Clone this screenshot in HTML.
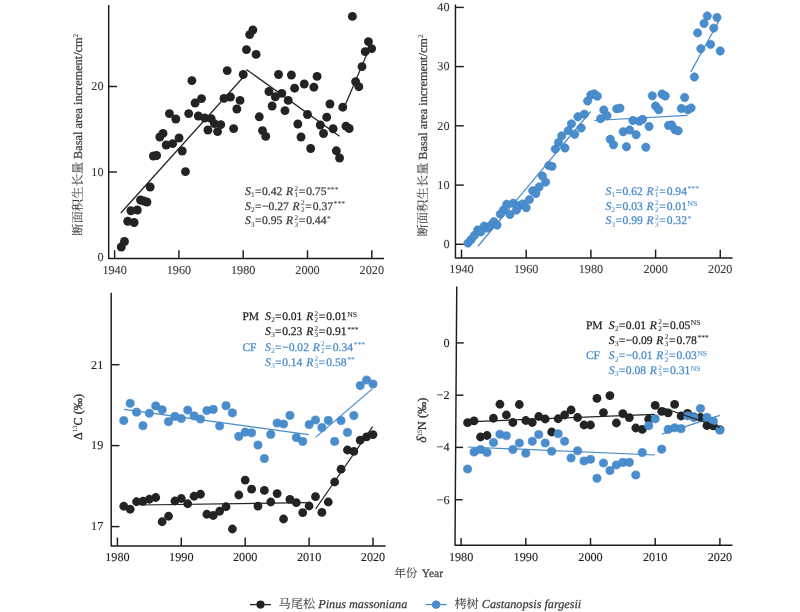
<!DOCTYPE html>
<html lang="zh"><head><meta charset="utf-8"><title>Figure</title>
<style>html,body{margin:0;padding:0;background:#fff}svg{display:block}</style></head>
<body>
<svg width="800" height="612" viewBox="0 0 800 612" font-family="'Liberation Serif', 'Noto Serif CJK SC', serif">
<rect width="800" height="612" fill="#fff"/>
<style>text{stroke-width:0.25px;stroke-linejoin:round;text-rendering:geometricPrecision}.cjk{stroke-width:0.08px;fill:#3c3c3c}.tk text{stroke-width:0.12px}</style>
<g stroke="#1c1c1c" stroke-width="1.45" fill="none" stroke-linejoin="round"><path d="M108.7 5L108.7 258.5H384"/><path d="M114.6 258.5v-8.3"/><path d="M178.9 258.5v-8.3"/><path d="M243.2 258.5v-8.3"/><path d="M307.5 258.5v-8.3"/><path d="M371.8 258.5v-8.3"/><path d="M108.70 172h8.3"/><path d="M108.70 86.5h8.3"/></g><g fill="#3a3a3a" stroke="#3a3a3a" font-size="12.2" class="tk"><text x="114.6" y="273.80" text-anchor="middle">1940</text><text x="178.9" y="273.80" text-anchor="middle">1960</text><text x="243.2" y="273.80" text-anchor="middle">1980</text><text x="307.5" y="273.80" text-anchor="middle">2000</text><text x="371.8" y="273.80" text-anchor="middle">2020</text><text x="103.5" y="261.45" text-anchor="end">0</text><text x="103.5" y="175.85" text-anchor="end">10</text><text x="103.5" y="90.35" text-anchor="end">20</text></g>
<g fill="#222324"><circle cx="121.27" cy="247.00" r="4.45"/><circle cx="124.48" cy="241.50" r="4.45"/><circle cx="127.69" cy="221.25" r="4.45"/><circle cx="130.90" cy="210.75" r="4.45"/><circle cx="134.11" cy="222.50" r="4.45"/><circle cx="137.32" cy="210.00" r="4.45"/><circle cx="140.53" cy="200.00" r="4.45"/><circle cx="143.74" cy="201.00" r="4.45"/><circle cx="146.95" cy="202.00" r="4.45"/><circle cx="150.16" cy="187.00" r="4.45"/><circle cx="153.37" cy="156.00" r="4.45"/><circle cx="156.58" cy="155.50" r="4.45"/><circle cx="159.79" cy="137.00" r="4.45"/><circle cx="163.00" cy="133.40" r="4.45"/><circle cx="166.21" cy="145.00" r="4.45"/><circle cx="169.42" cy="113.60" r="4.45"/><circle cx="172.63" cy="143.60" r="4.45"/><circle cx="175.84" cy="119.00" r="4.45"/><circle cx="179.05" cy="138.00" r="4.45"/><circle cx="182.26" cy="151.00" r="4.45"/><circle cx="185.47" cy="171.60" r="4.45"/><circle cx="188.68" cy="113.60" r="4.45"/><circle cx="191.89" cy="80.60" r="4.45"/><circle cx="195.10" cy="103.00" r="4.45"/><circle cx="198.31" cy="116.00" r="4.45"/><circle cx="201.52" cy="98.60" r="4.45"/><circle cx="204.73" cy="118.00" r="4.45"/><circle cx="207.94" cy="130.00" r="4.45"/><circle cx="211.15" cy="118.60" r="4.45"/><circle cx="214.36" cy="123.60" r="4.45"/><circle cx="217.57" cy="131.60" r="4.45"/><circle cx="220.78" cy="124.60" r="4.45"/><circle cx="223.99" cy="98.40" r="4.45"/><circle cx="227.20" cy="70.60" r="4.45"/><circle cx="230.41" cy="97.00" r="4.45"/><circle cx="233.62" cy="128.60" r="4.45"/><circle cx="236.83" cy="109.00" r="4.45"/><circle cx="240.04" cy="100.40" r="4.45"/><circle cx="243.25" cy="74.50" r="4.45"/><circle cx="246.46" cy="49.60" r="4.45"/><circle cx="249.67" cy="34.60" r="4.45"/><circle cx="252.88" cy="30.00" r="4.45"/><circle cx="256.09" cy="54.40" r="4.45"/><circle cx="259.30" cy="116.80" r="4.45"/><circle cx="262.51" cy="130.60" r="4.45"/><circle cx="265.72" cy="136.40" r="4.45"/><circle cx="268.93" cy="91.50" r="4.45"/><circle cx="272.14" cy="106.00" r="4.45"/><circle cx="275.35" cy="96.80" r="4.45"/><circle cx="278.56" cy="74.50" r="4.45"/><circle cx="281.77" cy="93.40" r="4.45"/><circle cx="284.98" cy="110.60" r="4.45"/><circle cx="288.19" cy="100.40" r="4.45"/><circle cx="291.40" cy="75.00" r="4.45"/><circle cx="294.61" cy="88.20" r="4.45"/><circle cx="297.82" cy="124.00" r="4.45"/><circle cx="301.03" cy="137.00" r="4.45"/><circle cx="304.24" cy="84.00" r="4.45"/><circle cx="307.45" cy="114.50" r="4.45"/><circle cx="310.66" cy="148.50" r="4.45"/><circle cx="313.87" cy="87.20" r="4.45"/><circle cx="317.08" cy="76.40" r="4.45"/><circle cx="320.29" cy="125.00" r="4.45"/><circle cx="323.50" cy="133.50" r="4.45"/><circle cx="326.71" cy="117.20" r="4.45"/><circle cx="329.92" cy="104.00" r="4.45"/><circle cx="333.13" cy="128.75" r="4.45"/><circle cx="336.34" cy="150.80" r="4.45"/><circle cx="339.55" cy="158.00" r="4.45"/><circle cx="342.76" cy="107.20" r="4.45"/><circle cx="345.97" cy="126.20" r="4.45"/><circle cx="349.18" cy="128.50" r="4.45"/><circle cx="352.39" cy="16.40" r="4.45"/><circle cx="355.60" cy="81.60" r="4.45"/><circle cx="358.81" cy="86.70" r="4.45"/><circle cx="362.02" cy="66.60" r="4.45"/><circle cx="365.23" cy="51.60" r="4.45"/><circle cx="368.44" cy="41.60" r="4.45"/><circle cx="371.65" cy="48.60" r="4.45"/></g>
<line x1="120.8" y1="213" x2="242.5" y2="78" stroke="#222324" stroke-width="1.25"/>
<line x1="246.4" y1="69.4" x2="339.5" y2="136.3" stroke="#222324" stroke-width="1.25"/>
<line x1="342.7" y1="111" x2="368.2" y2="51" stroke="#222324" stroke-width="1.25"/>
<text transform="translate(82.3 134.8) rotate(-90)" text-anchor="middle" font-size="12.3" fill="#3a3a3a" stroke="#3a3a3a"><tspan class="cjk">断面积生长量</tspan> Basal area increment/cm<tspan font-size="7.2" stroke-width="0.1" dy="-4.5">2</tspan></text>
<text x="245" y="195" fill="#3a3a3a" stroke="#3a3a3a" font-size="11.6"><tspan font-style="italic">S</tspan><tspan font-size="7.2" stroke-width="0.05" dy="2.3" dx="0.3">1</tspan><tspan dy="-2.3" dx="0.3">=</tspan><tspan dx="0.5">0.42</tspan><tspan font-style="italic" dx="3.7">R</tspan><tspan font-size="7.2" stroke-width="0.05" dy="-4.3" dx="1.3">2</tspan><tspan font-size="7.2" stroke-width="0.05" dy="6.6" dx="-3.6">1</tspan><tspan dy="-2.3" dx="0.7">=</tspan><tspan dx="0.9">0.75</tspan><tspan font-size="7.6" stroke-width="0.1" dy="-3.5" dx="0.6">***</tspan></text>
<text x="245" y="209.6" fill="#3a3a3a" stroke="#3a3a3a" font-size="11.6"><tspan font-style="italic">S</tspan><tspan font-size="7.2" stroke-width="0.05" dy="2.3" dx="0.3">2</tspan><tspan dy="-2.3" dx="0.3">=</tspan><tspan dx="0.5">−0.27</tspan><tspan font-style="italic" dx="3.7">R</tspan><tspan font-size="7.2" stroke-width="0.05" dy="-4.3" dx="1.3">2</tspan><tspan font-size="7.2" stroke-width="0.05" dy="6.6" dx="-3.6">2</tspan><tspan dy="-2.3" dx="0.7">=</tspan><tspan dx="0.9">0.37</tspan><tspan font-size="7.6" stroke-width="0.1" dy="-3.5" dx="0.6">***</tspan></text>
<text x="245" y="224.4" fill="#3a3a3a" stroke="#3a3a3a" font-size="11.6"><tspan font-style="italic">S</tspan><tspan font-size="7.2" stroke-width="0.05" dy="2.3" dx="0.3">3</tspan><tspan dy="-2.3" dx="0.3">=</tspan><tspan dx="0.5">0.95</tspan><tspan font-style="italic" dx="3.7">R</tspan><tspan font-size="7.2" stroke-width="0.05" dy="-4.3" dx="1.3">2</tspan><tspan font-size="7.2" stroke-width="0.05" dy="6.6" dx="-3.6">3</tspan><tspan dy="-2.3" dx="0.7">=</tspan><tspan dx="0.9">0.44</tspan><tspan font-size="7.6" stroke-width="0.1" dy="-3.5" dx="0.6">*</tspan></text>
<g stroke="#1c1c1c" stroke-width="1.45" fill="none" stroke-linejoin="round"><path d="M455.45 4.5L455.45 258H732.6"/><path d="M461.5 258v-8.3"/><path d="M526.2 258v-8.3"/><path d="M590.9 258v-8.3"/><path d="M655.6 258v-8.3"/><path d="M720.25 258v-8.3"/><path d="M455.45 244.3h8.3"/><path d="M455.45 185.1h8.3"/><path d="M455.45 125.8h8.3"/><path d="M455.45 66.6h8.3"/><path d="M455.45 7.4h8.3"/></g><g fill="#3a3a3a" stroke="#3a3a3a" font-size="12.2" class="tk"><text x="461.5" y="273.30" text-anchor="middle">1940</text><text x="526.2" y="273.30" text-anchor="middle">1960</text><text x="590.9" y="273.30" text-anchor="middle">1980</text><text x="655.6" y="273.30" text-anchor="middle">2000</text><text x="720.25" y="273.30" text-anchor="middle">2020</text><text x="449.5" y="248.15" text-anchor="end">0</text><text x="449.5" y="188.95" text-anchor="end">10</text><text x="449.5" y="129.65" text-anchor="end">20</text><text x="449.5" y="70.45" text-anchor="end">30</text><text x="449.5" y="11.25" text-anchor="end">40</text></g>
<line x1="478" y1="246.25" x2="590.65" y2="111.5" stroke="#478ac9" stroke-width="1.25"/>
<line x1="594.25" y1="120.5" x2="687.7" y2="115.3" stroke="#478ac9" stroke-width="1.25"/>
<line x1="690.8" y1="72" x2="718.7" y2="21.3" stroke="#478ac9" stroke-width="1.25"/>
<g fill="#4a8dcd" stroke="#3f82c4" stroke-width="0.6"><circle cx="467.97" cy="243.10" r="4.15"/><circle cx="471.20" cy="239.50" r="4.15"/><circle cx="474.44" cy="235.40" r="4.15"/><circle cx="477.67" cy="230.00" r="4.15"/><circle cx="480.90" cy="231.90" r="4.15"/><circle cx="484.14" cy="226.10" r="4.15"/><circle cx="487.37" cy="228.10" r="4.15"/><circle cx="490.61" cy="225.50" r="4.15"/><circle cx="493.84" cy="221.60" r="4.15"/><circle cx="497.07" cy="225.10" r="4.15"/><circle cx="500.31" cy="214.10" r="4.15"/><circle cx="503.54" cy="209.80" r="4.15"/><circle cx="506.78" cy="204.20" r="4.15"/><circle cx="510.01" cy="214.50" r="4.15"/><circle cx="513.24" cy="203.20" r="4.15"/><circle cx="516.48" cy="210.10" r="4.15"/><circle cx="519.71" cy="205.20" r="4.15"/><circle cx="522.95" cy="204.00" r="4.15"/><circle cx="526.18" cy="207.70" r="4.15"/><circle cx="529.41" cy="199.60" r="4.15"/><circle cx="532.65" cy="190.75" r="4.15"/><circle cx="535.88" cy="193.50" r="4.15"/><circle cx="539.12" cy="187.00" r="4.15"/><circle cx="542.35" cy="176.00" r="4.15"/><circle cx="545.58" cy="182.10" r="4.15"/><circle cx="548.82" cy="165.60" r="4.15"/><circle cx="552.05" cy="166.30" r="4.15"/><circle cx="555.29" cy="149.10" r="4.15"/><circle cx="558.52" cy="142.40" r="4.15"/><circle cx="561.75" cy="135.80" r="4.15"/><circle cx="564.99" cy="148.00" r="4.15"/><circle cx="568.22" cy="130.70" r="4.15"/><circle cx="571.46" cy="123.80" r="4.15"/><circle cx="574.69" cy="134.30" r="4.15"/><circle cx="577.92" cy="116.75" r="4.15"/><circle cx="581.16" cy="128.00" r="4.15"/><circle cx="584.39" cy="114.20" r="4.15"/><circle cx="587.63" cy="101.00" r="4.15"/><circle cx="590.86" cy="95.00" r="4.15"/><circle cx="594.09" cy="93.80" r="4.15"/><circle cx="597.33" cy="96.20" r="4.15"/><circle cx="600.56" cy="118.70" r="4.15"/><circle cx="603.80" cy="110.00" r="4.15"/><circle cx="607.03" cy="115.70" r="4.15"/><circle cx="610.26" cy="139.25" r="4.15"/><circle cx="613.50" cy="144.80" r="4.15"/><circle cx="616.73" cy="108.80" r="4.15"/><circle cx="619.97" cy="108.20" r="4.15"/><circle cx="623.20" cy="131.75" r="4.15"/><circle cx="626.43" cy="146.75" r="4.15"/><circle cx="629.67" cy="130.00" r="4.15"/><circle cx="632.90" cy="120.50" r="4.15"/><circle cx="636.14" cy="134.75" r="4.15"/><circle cx="639.37" cy="121.25" r="4.15"/><circle cx="642.60" cy="119.30" r="4.15"/><circle cx="645.84" cy="147.20" r="4.15"/><circle cx="649.07" cy="126.50" r="4.15"/><circle cx="652.31" cy="95.80" r="4.15"/><circle cx="655.54" cy="106.00" r="4.15"/><circle cx="658.77" cy="109.75" r="4.15"/><circle cx="662.01" cy="94.00" r="4.15"/><circle cx="665.24" cy="96.00" r="4.15"/><circle cx="668.48" cy="125.50" r="4.15"/><circle cx="671.71" cy="125.00" r="4.15"/><circle cx="674.94" cy="129.70" r="4.15"/><circle cx="678.18" cy="130.75" r="4.15"/><circle cx="681.41" cy="108.50" r="4.15"/><circle cx="684.65" cy="97.50" r="4.15"/><circle cx="687.88" cy="109.75" r="4.15"/><circle cx="691.11" cy="108.00" r="4.15"/><circle cx="694.35" cy="77.00" r="4.15"/><circle cx="697.58" cy="32.90" r="4.15"/><circle cx="700.82" cy="48.75" r="4.15"/><circle cx="704.05" cy="23.50" r="4.15"/><circle cx="707.28" cy="16.00" r="4.15"/><circle cx="710.52" cy="44.40" r="4.15"/><circle cx="713.75" cy="28.10" r="4.15"/><circle cx="716.99" cy="17.50" r="4.15"/><circle cx="720.22" cy="51.00" r="4.15"/></g>
<text transform="translate(427.3 135.5) rotate(-90)" text-anchor="middle" font-size="12.3" fill="#3a3a3a" stroke="#3a3a3a"><tspan class="cjk">断面积生长量</tspan> Basal area increment/cm<tspan font-size="7.2" stroke-width="0.1" dy="-4.5">2</tspan></text>
<text x="605.5" y="194.8" fill="#478ac9" stroke="#478ac9" font-size="11.6"><tspan font-style="italic">S</tspan><tspan font-size="7.2" stroke-width="0.05" dy="2.3" dx="0.3">1</tspan><tspan dy="-2.3" dx="0.3">=</tspan><tspan dx="0.5">0.62</tspan><tspan font-style="italic" dx="3.7">R</tspan><tspan font-size="7.2" stroke-width="0.05" dy="-4.3" dx="1.3">2</tspan><tspan font-size="7.2" stroke-width="0.05" dy="6.6" dx="-3.6">1</tspan><tspan dy="-2.3" dx="0.7">=</tspan><tspan dx="0.9">0.94</tspan><tspan font-size="7.6" stroke-width="0.1" dy="-3.5" dx="0.6">***</tspan></text>
<text x="605.5" y="209.5" fill="#478ac9" stroke="#478ac9" font-size="11.6"><tspan font-style="italic">S</tspan><tspan font-size="7.2" stroke-width="0.05" dy="2.3" dx="0.3">2</tspan><tspan dy="-2.3" dx="0.3">=</tspan><tspan dx="0.5">0.03</tspan><tspan font-style="italic" dx="3.7">R</tspan><tspan font-size="7.2" stroke-width="0.05" dy="-4.3" dx="1.3">2</tspan><tspan font-size="7.2" stroke-width="0.05" dy="6.6" dx="-3.6">2</tspan><tspan dy="-2.3" dx="0.7">=</tspan><tspan dx="0.9">0.01</tspan><tspan font-size="7.6" stroke-width="0.1" dy="-3.5" dx="0.6">NS</tspan></text>
<text x="605.5" y="224.2" fill="#478ac9" stroke="#478ac9" font-size="11.6"><tspan font-style="italic">S</tspan><tspan font-size="7.2" stroke-width="0.05" dy="2.3" dx="0.3">3</tspan><tspan dy="-2.3" dx="0.3">=</tspan><tspan dx="0.5">0.99</tspan><tspan font-style="italic" dx="3.7">R</tspan><tspan font-size="7.2" stroke-width="0.05" dy="-4.3" dx="1.3">2</tspan><tspan font-size="7.2" stroke-width="0.05" dy="6.6" dx="-3.6">3</tspan><tspan dy="-2.3" dx="0.7">=</tspan><tspan dx="0.9">0.32</tspan><tspan font-size="7.6" stroke-width="0.1" dy="-3.5" dx="0.6">*</tspan></text>
<g stroke="#1c1c1c" stroke-width="1.45" fill="none" stroke-linejoin="round"><path d="M111.2 292.7L111.2 545.9H385.5"/><path d="M117.4 545.9v-8.3"/><path d="M181.3 545.9v-8.3"/><path d="M245.2 545.9v-8.3"/><path d="M309.1 545.9v-8.3"/><path d="M373 545.9v-8.3"/><path d="M111.20 526.6h8.3"/><path d="M111.20 445.6h8.3"/><path d="M111.20 364.7h8.3"/></g><g fill="#1e1e1e" stroke="#1e1e1e" font-size="12.2" class="tk"><text x="117.4" y="561.20" text-anchor="middle">1980</text><text x="181.3" y="561.20" text-anchor="middle">1990</text><text x="245.2" y="561.20" text-anchor="middle">2000</text><text x="309.1" y="561.20" text-anchor="middle">2010</text><text x="373" y="561.20" text-anchor="middle">2020</text><text x="103.3" y="530.45" text-anchor="end">17</text><text x="103.3" y="449.45" text-anchor="end">19</text><text x="103.3" y="368.55" text-anchor="end">21</text></g>
<g fill="#222324"><circle cx="123.79" cy="506.25" r="4.40"/><circle cx="130.18" cy="509.25" r="4.40"/><circle cx="136.57" cy="501.75" r="4.40"/><circle cx="142.96" cy="501.25" r="4.40"/><circle cx="149.35" cy="499.25" r="4.40"/><circle cx="155.74" cy="497.50" r="4.40"/><circle cx="162.13" cy="521.75" r="4.40"/><circle cx="168.52" cy="516.25" r="4.40"/><circle cx="174.91" cy="501.00" r="4.40"/><circle cx="181.30" cy="498.50" r="4.40"/><circle cx="187.69" cy="503.75" r="4.40"/><circle cx="194.08" cy="496.25" r="4.40"/><circle cx="200.47" cy="494.25" r="4.40"/><circle cx="206.86" cy="514.25" r="4.40"/><circle cx="213.25" cy="515.50" r="4.40"/><circle cx="219.64" cy="511.25" r="4.40"/><circle cx="226.03" cy="506.75" r="4.40"/><circle cx="232.42" cy="529.00" r="4.40"/><circle cx="238.81" cy="495.00" r="4.40"/><circle cx="245.20" cy="480.10" r="4.40"/><circle cx="251.59" cy="489.20" r="4.40"/><circle cx="257.98" cy="506.10" r="4.40"/><circle cx="264.37" cy="490.40" r="4.40"/><circle cx="270.76" cy="502.00" r="4.40"/><circle cx="277.15" cy="493.60" r="4.40"/><circle cx="283.54" cy="519.00" r="4.40"/><circle cx="289.93" cy="499.40" r="4.40"/><circle cx="296.32" cy="502.60" r="4.40"/><circle cx="302.71" cy="512.60" r="4.40"/><circle cx="309.10" cy="506.00" r="4.40"/><circle cx="315.49" cy="496.60" r="4.40"/><circle cx="321.88" cy="512.40" r="4.40"/><circle cx="328.27" cy="502.00" r="4.40"/><circle cx="334.66" cy="482.00" r="4.40"/><circle cx="341.05" cy="469.20" r="4.40"/><circle cx="347.44" cy="450.00" r="4.40"/><circle cx="353.83" cy="451.40" r="4.40"/><circle cx="360.22" cy="440.20" r="4.40"/><circle cx="366.61" cy="436.80" r="4.40"/><circle cx="373.00" cy="434.60" r="4.40"/></g>
<line x1="124.1" y1="409.4" x2="308.6" y2="434.6" stroke="#478ac9" stroke-width="1.25"/>
<line x1="315.6" y1="437.4" x2="372.6" y2="388.6" stroke="#478ac9" stroke-width="1.25"/>
<g fill="#4a8dcd" stroke="#3f82c4" stroke-width="0.6"><circle cx="123.79" cy="420.60" r="4.10"/><circle cx="130.18" cy="403.30" r="4.10"/><circle cx="136.57" cy="412.20" r="4.10"/><circle cx="142.96" cy="425.70" r="4.10"/><circle cx="149.35" cy="413.25" r="4.10"/><circle cx="155.74" cy="405.90" r="4.10"/><circle cx="162.13" cy="409.75" r="4.10"/><circle cx="168.52" cy="421.65" r="4.10"/><circle cx="174.91" cy="416.40" r="4.10"/><circle cx="181.30" cy="418.50" r="4.10"/><circle cx="187.69" cy="410.10" r="4.10"/><circle cx="194.08" cy="415.90" r="4.10"/><circle cx="200.47" cy="419.00" r="4.10"/><circle cx="206.86" cy="410.60" r="4.10"/><circle cx="213.25" cy="409.40" r="4.10"/><circle cx="219.64" cy="426.00" r="4.10"/><circle cx="226.03" cy="405.70" r="4.10"/><circle cx="232.42" cy="412.90" r="4.10"/><circle cx="238.81" cy="436.40" r="4.10"/><circle cx="245.20" cy="432.20" r="4.10"/><circle cx="251.59" cy="432.80" r="4.10"/><circle cx="257.98" cy="445.00" r="4.10"/><circle cx="264.37" cy="458.60" r="4.10"/><circle cx="270.76" cy="434.40" r="4.10"/><circle cx="277.15" cy="423.00" r="4.10"/><circle cx="283.54" cy="424.00" r="4.10"/><circle cx="289.93" cy="415.40" r="4.10"/><circle cx="296.32" cy="437.60" r="4.10"/><circle cx="302.71" cy="441.40" r="4.10"/><circle cx="309.10" cy="424.60" r="4.10"/><circle cx="315.49" cy="420.00" r="4.10"/><circle cx="321.88" cy="427.60" r="4.10"/><circle cx="328.27" cy="420.40" r="4.10"/><circle cx="334.66" cy="441.40" r="4.10"/><circle cx="341.05" cy="420.60" r="4.10"/><circle cx="347.44" cy="432.40" r="4.10"/><circle cx="353.83" cy="415.60" r="4.10"/><circle cx="360.22" cy="385.60" r="4.10"/><circle cx="366.61" cy="380.00" r="4.10"/><circle cx="373.00" cy="384.00" r="4.10"/></g>
<line x1="140" y1="505" x2="309" y2="502.6" stroke="#222324" stroke-width="1.25"/>
<line x1="315.6" y1="509" x2="372.6" y2="426.6" stroke="#222324" stroke-width="1.25"/>
<text transform="translate(81.6 417) rotate(-90)" text-anchor="middle" font-size="12.2" stroke-width="0.15" fill="#1e1e1e" stroke="#1e1e1e">Δ<tspan font-size="6.6" stroke-width="0.05" dy="-4.6">13</tspan><tspan dy="4.6">C (‰)</tspan></text>
<text x="242.4" y="320.1" font-size="11.5" fill="#1e1e1e" stroke="#1e1e1e">PM</text>
<text x="265.1" y="320.1" fill="#1e1e1e" stroke="#1e1e1e" font-size="11.6"><tspan font-style="italic">S</tspan><tspan font-size="7.2" stroke-width="0.05" dy="2.3" dx="0.3">2</tspan><tspan dy="-2.3" dx="0.3">=</tspan><tspan dx="0.5">0.01</tspan><tspan font-style="italic" dx="3.7">R</tspan><tspan font-size="7.2" stroke-width="0.05" dy="-4.3" dx="1.3">2</tspan><tspan font-size="7.2" stroke-width="0.05" dy="6.6" dx="-3.6">2</tspan><tspan dy="-2.3" dx="0.7">=</tspan><tspan dx="0.9">0.01</tspan><tspan font-size="7.6" stroke-width="0.1" dy="-3.5" dx="0.6">NS</tspan></text>
<text x="265.1" y="335.1" fill="#1e1e1e" stroke="#1e1e1e" font-size="11.6"><tspan font-style="italic">S</tspan><tspan font-size="7.2" stroke-width="0.05" dy="2.3" dx="0.3">3</tspan><tspan dy="-2.3" dx="0.3">=</tspan><tspan dx="0.5">0.23</tspan><tspan font-style="italic" dx="3.7">R</tspan><tspan font-size="7.2" stroke-width="0.05" dy="-4.3" dx="1.3">2</tspan><tspan font-size="7.2" stroke-width="0.05" dy="6.6" dx="-3.6">3</tspan><tspan dy="-2.3" dx="0.7">=</tspan><tspan dx="0.9">0.91</tspan><tspan font-size="7.6" stroke-width="0.1" dy="-3.5" dx="0.6">***</tspan></text>
<text x="242.4" y="350.6" font-size="11.5" fill="#478ac9" stroke="#478ac9">CF</text>
<text x="265.1" y="350.6" fill="#478ac9" stroke="#478ac9" font-size="11.6"><tspan font-style="italic">S</tspan><tspan font-size="7.2" stroke-width="0.05" dy="2.3" dx="0.3">2</tspan><tspan dy="-2.3" dx="0.3">=</tspan><tspan dx="0.5">−0.02</tspan><tspan font-style="italic" dx="3.7">R</tspan><tspan font-size="7.2" stroke-width="0.05" dy="-4.3" dx="1.3">2</tspan><tspan font-size="7.2" stroke-width="0.05" dy="6.6" dx="-3.6">2</tspan><tspan dy="-2.3" dx="0.7">=</tspan><tspan dx="0.9">0.34</tspan><tspan font-size="7.6" stroke-width="0.1" dy="-3.5" dx="0.6">***</tspan></text>
<text x="265.1" y="365.6" fill="#478ac9" stroke="#478ac9" font-size="11.6"><tspan font-style="italic">S</tspan><tspan font-size="7.2" stroke-width="0.05" dy="2.3" dx="0.3">3</tspan><tspan dy="-2.3" dx="0.3">=</tspan><tspan dx="0.5">0.14</tspan><tspan font-style="italic" dx="3.7">R</tspan><tspan font-size="7.2" stroke-width="0.05" dy="-4.3" dx="1.3">2</tspan><tspan font-size="7.2" stroke-width="0.05" dy="6.6" dx="-3.6">3</tspan><tspan dy="-2.3" dx="0.7">=</tspan><tspan dx="0.9">0.58</tspan><tspan font-size="7.6" stroke-width="0.1" dy="-3.5" dx="0.6">**</tspan></text>
<g stroke="#1c1c1c" stroke-width="1.45" fill="none" stroke-linejoin="round"><path d="M456.75 286.6L455.0 545.3H732.5"/><path d="M461.1 545.3v-7.4"/><path d="M525.8 545.3v-7.4"/><path d="M590.5 545.3v-7.4"/><path d="M655.2 545.3v-7.4"/><path d="M719.9 545.3v-7.4"/><path d="M455.31 499.7h7.4"/><path d="M455.66 447.4h7.4"/><path d="M456.02 395.2h7.4"/><path d="M456.37 342.9h7.4"/></g><g fill="#1e1e1e" stroke="#1e1e1e" font-size="12.2" class="tk"><text x="461.1" y="560.60" text-anchor="middle">1980</text><text x="525.8" y="560.60" text-anchor="middle">1990</text><text x="590.5" y="560.60" text-anchor="middle">2000</text><text x="655.2" y="560.60" text-anchor="middle">2010</text><text x="719.9" y="560.60" text-anchor="middle">2020</text><text x="449.5" y="503.55" text-anchor="end">−6</text><text x="449.5" y="451.25" text-anchor="end">−4</text><text x="449.5" y="399.05" text-anchor="end">−2</text><text x="449.5" y="346.75" text-anchor="end">0</text></g>
<g fill="#222324"><circle cx="467.57" cy="422.70" r="4.40"/><circle cx="474.04" cy="420.90" r="4.40"/><circle cx="480.51" cy="437.00" r="4.40"/><circle cx="486.98" cy="435.50" r="4.40"/><circle cx="493.45" cy="418.25" r="4.40"/><circle cx="499.92" cy="404.25" r="4.40"/><circle cx="506.39" cy="415.00" r="4.40"/><circle cx="512.86" cy="422.50" r="4.40"/><circle cx="519.33" cy="404.50" r="4.40"/><circle cx="525.80" cy="420.50" r="4.40"/><circle cx="532.27" cy="422.50" r="4.40"/><circle cx="538.74" cy="416.50" r="4.40"/><circle cx="545.21" cy="419.00" r="4.40"/><circle cx="551.68" cy="432.00" r="4.40"/><circle cx="558.15" cy="418.75" r="4.40"/><circle cx="564.62" cy="415.00" r="4.40"/><circle cx="571.09" cy="410.00" r="4.40"/><circle cx="577.56" cy="417.50" r="4.40"/><circle cx="584.03" cy="425.00" r="4.40"/><circle cx="590.50" cy="425.00" r="4.40"/><circle cx="596.97" cy="398.40" r="4.40"/><circle cx="603.44" cy="412.60" r="4.40"/><circle cx="609.91" cy="395.60" r="4.40"/><circle cx="616.38" cy="423.00" r="4.40"/><circle cx="622.85" cy="413.60" r="4.40"/><circle cx="629.32" cy="417.60" r="4.40"/><circle cx="635.79" cy="428.00" r="4.40"/><circle cx="642.26" cy="429.40" r="4.40"/><circle cx="648.73" cy="419.20" r="4.40"/><circle cx="655.20" cy="405.40" r="4.40"/><circle cx="661.67" cy="411.30" r="4.40"/><circle cx="668.14" cy="412.80" r="4.40"/><circle cx="674.61" cy="404.40" r="4.40"/><circle cx="681.08" cy="416.00" r="4.40"/><circle cx="687.55" cy="413.40" r="4.40"/><circle cx="694.02" cy="417.00" r="4.40"/><circle cx="700.49" cy="417.50" r="4.40"/><circle cx="706.96" cy="425.50" r="4.40"/><circle cx="713.43" cy="425.80" r="4.40"/><circle cx="719.90" cy="429.60" r="4.40"/></g>
<line x1="468" y1="447" x2="655" y2="455" stroke="#478ac9" stroke-width="1.25"/>
<line x1="661.9" y1="434.2" x2="719.9" y2="415.3" stroke="#478ac9" stroke-width="1.25"/>
<g fill="#4a8dcd" stroke="#3f82c4" stroke-width="0.6"><circle cx="467.57" cy="469.00" r="4.10"/><circle cx="474.04" cy="452.00" r="4.10"/><circle cx="480.51" cy="449.50" r="4.10"/><circle cx="486.98" cy="452.50" r="4.10"/><circle cx="493.45" cy="442.50" r="4.10"/><circle cx="499.92" cy="434.25" r="4.10"/><circle cx="506.39" cy="435.75" r="4.10"/><circle cx="512.86" cy="449.50" r="4.10"/><circle cx="519.33" cy="443.00" r="4.10"/><circle cx="525.80" cy="453.25" r="4.10"/><circle cx="532.27" cy="441.25" r="4.10"/><circle cx="538.74" cy="434.50" r="4.10"/><circle cx="545.21" cy="443.00" r="4.10"/><circle cx="551.68" cy="451.25" r="4.10"/><circle cx="558.15" cy="433.75" r="4.10"/><circle cx="564.62" cy="441.25" r="4.10"/><circle cx="571.09" cy="458.00" r="4.10"/><circle cx="577.56" cy="450.75" r="4.10"/><circle cx="584.03" cy="461.00" r="4.10"/><circle cx="590.50" cy="459.30" r="4.10"/><circle cx="596.97" cy="478.30" r="4.10"/><circle cx="603.44" cy="463.00" r="4.10"/><circle cx="609.91" cy="470.60" r="4.10"/><circle cx="616.38" cy="465.00" r="4.10"/><circle cx="622.85" cy="462.40" r="4.10"/><circle cx="629.32" cy="462.40" r="4.10"/><circle cx="635.79" cy="475.00" r="4.10"/><circle cx="642.26" cy="452.60" r="4.10"/><circle cx="648.73" cy="425.70" r="4.10"/><circle cx="655.20" cy="418.80" r="4.10"/><circle cx="661.67" cy="449.20" r="4.10"/><circle cx="668.14" cy="429.40" r="4.10"/><circle cx="674.61" cy="427.80" r="4.10"/><circle cx="681.08" cy="428.70" r="4.10"/><circle cx="687.55" cy="415.80" r="4.10"/><circle cx="694.02" cy="417.30" r="4.10"/><circle cx="700.49" cy="408.50" r="4.10"/><circle cx="706.96" cy="417.30" r="4.10"/><circle cx="713.43" cy="421.30" r="4.10"/><circle cx="719.90" cy="430.20" r="4.10"/></g>
<line x1="468" y1="421.8" x2="654.6" y2="414.3" stroke="#222324" stroke-width="1.25"/>
<line x1="663.5" y1="408.0" x2="719.9" y2="427.4" stroke="#222324" stroke-width="1.25"/>
<text transform="translate(426.3 420.3) rotate(-90)" text-anchor="middle" font-size="12.2" stroke-width="0.15" fill="#1e1e1e" stroke="#1e1e1e"><tspan font-style="italic" font-size="13.5">δ</tspan><tspan font-size="6.6" stroke-width="0.05" dy="-4.6">15</tspan><tspan dy="4.6">N (‰)</tspan></text>
<text x="585.9" y="328.7" font-size="11.5" fill="#1e1e1e" stroke="#1e1e1e">PM</text>
<text x="608.8" y="328.7" fill="#1e1e1e" stroke="#1e1e1e" font-size="11.6"><tspan font-style="italic">S</tspan><tspan font-size="7.2" stroke-width="0.05" dy="2.3" dx="0.3">2</tspan><tspan dy="-2.3" dx="0.3">=</tspan><tspan dx="0.5">0.01</tspan><tspan font-style="italic" dx="3.7">R</tspan><tspan font-size="7.2" stroke-width="0.05" dy="-4.3" dx="1.3">2</tspan><tspan font-size="7.2" stroke-width="0.05" dy="6.6" dx="-3.6">2</tspan><tspan dy="-2.3" dx="0.7">=</tspan><tspan dx="0.9">0.05</tspan><tspan font-size="7.6" stroke-width="0.1" dy="-3.5" dx="0.6">NS</tspan></text>
<text x="608.8" y="343.6" fill="#1e1e1e" stroke="#1e1e1e" font-size="11.6"><tspan font-style="italic">S</tspan><tspan font-size="7.2" stroke-width="0.05" dy="2.3" dx="0.3">3</tspan><tspan dy="-2.3" dx="0.3">=</tspan><tspan dx="0.5">−0.09</tspan><tspan font-style="italic" dx="3.7">R</tspan><tspan font-size="7.2" stroke-width="0.05" dy="-4.3" dx="1.3">2</tspan><tspan font-size="7.2" stroke-width="0.05" dy="6.6" dx="-3.6">3</tspan><tspan dy="-2.3" dx="0.7">=</tspan><tspan dx="0.9">0.78</tspan><tspan font-size="7.6" stroke-width="0.1" dy="-3.5" dx="0.6">***</tspan></text>
<text x="585.9" y="359.2" font-size="11.5" fill="#478ac9" stroke="#478ac9">CF</text>
<text x="608.8" y="359.2" fill="#478ac9" stroke="#478ac9" font-size="11.6"><tspan font-style="italic">S</tspan><tspan font-size="7.2" stroke-width="0.05" dy="2.3" dx="0.3">2</tspan><tspan dy="-2.3" dx="0.3">=</tspan><tspan dx="0.5">−0.01</tspan><tspan font-style="italic" dx="3.7">R</tspan><tspan font-size="7.2" stroke-width="0.05" dy="-4.3" dx="1.3">2</tspan><tspan font-size="7.2" stroke-width="0.05" dy="6.6" dx="-3.6">2</tspan><tspan dy="-2.3" dx="0.7">=</tspan><tspan dx="0.9">0.03</tspan><tspan font-size="7.6" stroke-width="0.1" dy="-3.5" dx="0.6">NS</tspan></text>
<text x="608.8" y="374.1" fill="#478ac9" stroke="#478ac9" font-size="11.6"><tspan font-style="italic">S</tspan><tspan font-size="7.2" stroke-width="0.05" dy="2.3" dx="0.3">3</tspan><tspan dy="-2.3" dx="0.3">=</tspan><tspan dx="0.5">0.08</tspan><tspan font-style="italic" dx="3.7">R</tspan><tspan font-size="7.2" stroke-width="0.05" dy="-4.3" dx="1.3">2</tspan><tspan font-size="7.2" stroke-width="0.05" dy="6.6" dx="-3.6">3</tspan><tspan dy="-2.3" dx="0.7">=</tspan><tspan dx="0.9">0.31</tspan><tspan font-size="7.6" stroke-width="0.1" dy="-3.5" dx="0.6">NS</tspan></text>
<text x="394.2" y="577.3" font-size="11.5" fill="#3a3a3a" stroke="#3a3a3a"><tspan class="cjk">年份</tspan><tspan dx="4.6">Year</tspan></text>
<line x1="250" y1="604.6" x2="271" y2="604.6" stroke="#222324" stroke-width="1.3"/>
<circle cx="260.5" cy="604.6" r="4.1" fill="#222324"/>
<text x="278.6" y="607.8" font-size="12.2" fill="#3a3a3a" stroke="#3a3a3a"><tspan class="cjk">马尾松</tspan> <tspan font-style="italic">Pinus massoniana</tspan></text>
<line x1="425.6" y1="604.6" x2="446.6" y2="604.6" stroke="#478ac9" stroke-width="1.3"/>
<circle cx="436.1" cy="604.6" r="3.95" fill="#4a8dcd" stroke="#3f82c4" stroke-width="0.6"/>
<text x="454.4" y="607.8" font-size="12.2" fill="#3a3a3a" stroke="#3a3a3a"><tspan class="cjk">栲树</tspan> <tspan font-style="italic">Castanopsis fargesii</tspan></text>
</svg>
</body></html>
